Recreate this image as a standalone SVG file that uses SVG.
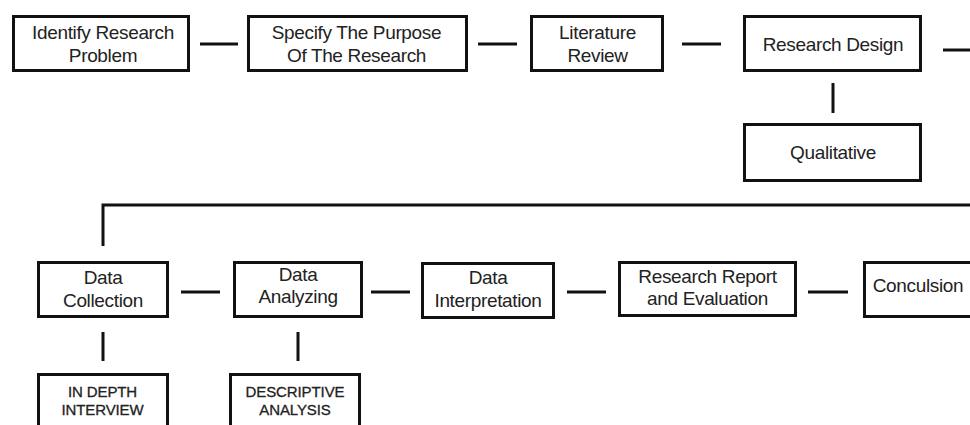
<svg xmlns="http://www.w3.org/2000/svg" width="970" height="425" viewBox="0 0 970 425">
<style>
.box{fill:#fff;stroke:#111;stroke-width:3}
.t{font-family:"Liberation Sans",Arial,sans-serif;font-size:19px;letter-spacing:-0.35px;fill:#222;text-anchor:middle}
.s{font-family:"Liberation Sans",Arial,sans-serif;font-size:15px;fill:#222;text-anchor:middle;letter-spacing:-0.1px;stroke:#222;stroke-width:0.3}
.c{stroke:#111;stroke-width:3;fill:none}
</style>
<rect width="970" height="425" fill="#fff"/>
<g id="connectors">
<line class="c" x1="200" y1="44" x2="238" y2="44"/>
<line class="c" x1="478" y1="44" x2="517" y2="44"/>
<line class="c" x1="682" y1="44" x2="721" y2="44"/>
<line class="c" x1="943" y1="50" x2="975" y2="50"/>
<line class="c" x1="833" y1="83" x2="833" y2="113"/>
<polyline class="c" points="103,246 103,205 975,205"/>
<line class="c" x1="181" y1="292" x2="220" y2="292"/>
<line class="c" x1="371" y1="292" x2="410" y2="292"/>
<line class="c" x1="567" y1="292" x2="606" y2="292"/>
<line class="c" x1="808" y1="292" x2="848" y2="292"/>
<line class="c" x1="103" y1="332" x2="103" y2="361"/>
<line class="c" x1="298" y1="332" x2="298" y2="361"/>
</g>
<g id="identify">
<rect class="box" x="13.5" y="16.5" width="175" height="54"/>
<text class="t" x="103" y="39">Identify Research</text>
<text class="t" x="103" y="62">Problem</text>
</g>
<g id="purpose">
<rect class="box" x="248.5" y="16.5" width="218" height="54"/>
<text class="t" x="356.5" y="39">Specify The Purpose</text>
<text class="t" x="356.5" y="62">Of The Research</text>
</g>
<g id="literature">
<rect class="box" x="531.5" y="16.5" width="131" height="54"/>
<text class="t" x="597.5" y="39">Literature</text>
<text class="t" x="597.5" y="62">Review</text>
</g>
<g id="design">
<rect class="box" x="744.5" y="16.5" width="176" height="54"/>
<text class="t" x="833" y="51">Research Design</text>
</g>
<g id="qualitative">
<rect class="box" x="744.5" y="124.5" width="176" height="56"/>
<text class="t" x="833" y="159">Qualitative</text>
</g>
<g id="collection">
<rect class="box" x="38.5" y="262.5" width="129" height="54"/>
<text class="t" x="103" y="284">Data</text>
<text class="t" x="103" y="307">Collection</text>
</g>
<g id="analyzing">
<rect class="box" x="234.5" y="262.5" width="127" height="54"/>
<text class="t" x="298" y="281">Data</text>
<text class="t" x="298" y="303">Analyzing</text>
</g>
<g id="interpretation">
<rect class="box" x="422.5" y="263.5" width="131" height="54"/>
<text class="t" x="488" y="284">Data</text>
<text class="t" x="488" y="307">Interpretation</text>
</g>
<g id="report">
<rect class="box" x="619.5" y="262.5" width="176" height="53"/>
<text class="t" x="707.5" y="283">Research Report</text>
<text class="t" x="707.5" y="305">and Evaluation</text>
</g>
<g id="conclusion">
<rect class="box" x="864.5" y="262.5" width="120" height="54"/>
<text class="t" x="918" y="292">Conculsion</text>
</g>
<g id="interview">
<rect class="box" x="38.5" y="374.5" width="129" height="70"/>
<text class="s" x="102.5" y="397">IN DEPTH</text>
<text class="s" x="102.5" y="415">INTERVIEW</text>
</g>
<g id="descriptive">
<rect class="box" x="230.5" y="374.5" width="129" height="70"/>
<text class="s" x="295" y="397">DESCRIPTIVE</text>
<text class="s" x="295" y="415">ANALYSIS</text>
</g>
</svg>
